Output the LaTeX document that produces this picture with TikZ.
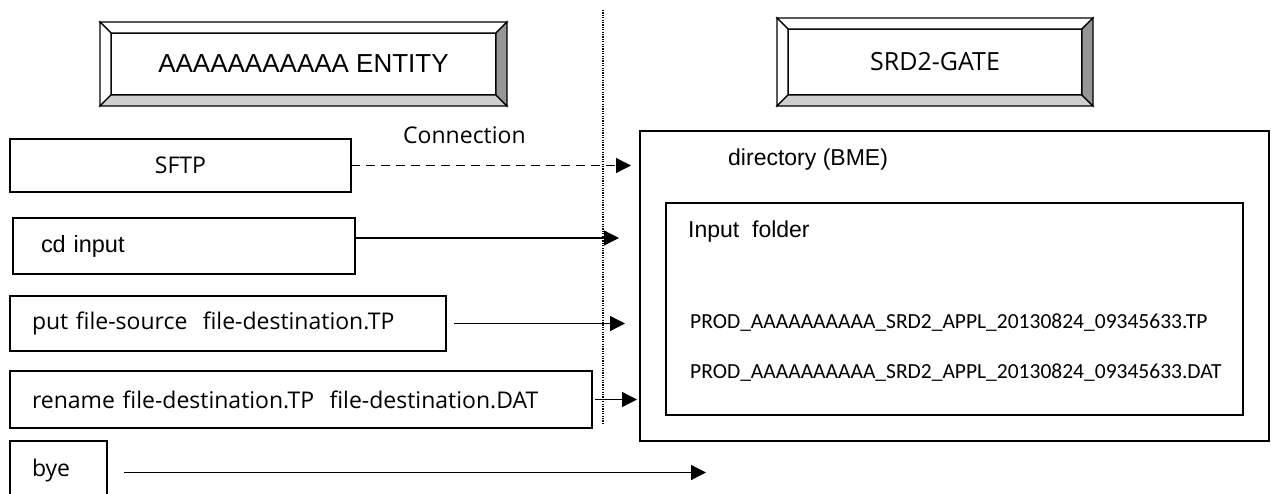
\documentclass[tikz,border=0pt]{standalone}
\usepackage{fontspec}
\setmainfont{Liberation Sans}
\newfontfamily\segoe{Open Sans}
\newfontfamily\calib{Carlito}
\usepackage{tikz}
\usetikzlibrary{arrows.meta, positioning}
\definecolor{bevellight}{RGB}{207,207,207}
\definecolor{beveldark}{RGB}{150,150,150}

\begin{document}
\begin{tikzpicture}[x=1pt,y=-1pt,
	header/.style={draw, line width=1.2pt, rectangle, outer sep=0pt, inner sep=0pt},
	cmdbox/.style={draw, line width=1.3pt, rectangle, outer sep=0pt, inner ysep=0pt, align=left, font=\segoe\fontsize{23}{27}\selectfont},
	dirbox/.style={draw, line width=1.3pt, rectangle, outer sep=0pt, inner sep=0pt},
	txt/.style={inner sep=0pt, anchor=west, font=\fontsize{23}{27}\selectfont},
	flow/.style={line width=1.3pt, -{Triangle[length=15pt,width=15pt]}}]
	\useasboundingbox (0,0) rectangle (1278,493);
	%\draw[step=50pt, color=gray!30] (0,0) grid (1278,493);

	% headers
	\node[header, minimum width=385pt, minimum height=62pt, font=\fontsize{26}{30}\selectfont] (entity) at (303.5,64) {AAAAAAAAAAA ENTITY};
	\node[header, minimum width=294pt, minimum height=66pt, font=\segoe\fontsize{25}{30}\selectfont] (gate) at (935,62) {SRD2-GATE};
	\foreach \b in {entity,gate}{
		\filldraw[line width=1.2pt, fill=white] ([shift={(-11pt,11pt)}]\b.north west) -- ([shift={(11pt,11pt)}]\b.north east) -- (\b.north east) -- (\b.north west) -- cycle;
		\filldraw[line width=1.2pt, fill=white] ([shift={(-11pt,11pt)}]\b.north west) -- (\b.north west) -- (\b.south west) -- ([shift={(-11pt,-11pt)}]\b.south west) -- cycle;
		\filldraw[line width=1.2pt, fill=bevellight] ([shift={(-11pt,-11pt)}]\b.south west) -- (\b.south west) -- (\b.south east) -- ([shift={(11pt,-11pt)}]\b.south east) -- cycle;
		\filldraw[line width=1.2pt, fill=beveldark] ([shift={(11pt,11pt)}]\b.north east) -- ([shift={(11pt,-11pt)}]\b.south east) -- (\b.south east) -- (\b.north east) -- cycle;
	}

	% separation
	\coordinate (sepTop) at (603,10);
	\coordinate (sepBot) at (603,425);
	\draw[line width=1.1pt, dash pattern=on 1.2pt off 1.2pt] (sepTop) -- (sepBot);
	\node[txt, font=\segoe\fontsize{23}{27}\selectfont] (conn) at (403,135) {Connection};

	% commands
	\node[cmdbox, minimum width=341pt, minimum height=53pt, anchor=north west, align=center] (sftp) at (10,139) {SFTP};
	\node[cmdbox, inner xsep=28pt, text width=286pt, minimum height=56pt, anchor=north west, font=\fontsize{23.5}{27}\selectfont] (cd) at (13,218) {cd input};
	\node[cmdbox, inner xsep=22pt, text width=392pt, minimum height=55pt, anchor=north west] (put) at (10,296) {put file-source\ \ file-destination.TP};
	\node[cmdbox, inner xsep=22pt, text width=538pt, minimum height=57pt, anchor=north west] (ren) at (10,371) {rename file-destination.TP\ \ file-destination.DAT};
	\node[cmdbox, inner xsep=22pt, text width=53pt, minimum height=59pt, anchor=north west] (bye) at (10,441) {bye};

	% SRD2 side
	\node[dirbox, minimum width=629pt, minimum height=310pt, anchor=north west] (dir) at (640,131) {};
	\node[txt] (dirlabel) at (728,160) {directory (BME)};
	\node[dirbox, minimum width=577pt, minimum height=212pt, anchor=north west] (infolder) at (666,203) {};
	\node[txt] (inlabel) at (688,232) {Input\ \ folder};
	\node[txt, font=\calib\fontsize{21.5}{25}\selectfont] (tpfile) at (690,323) {PROD\_AAAAAAAAAA\_SRD2\_APPL\_20130824\_09345633.TP};
	\node[txt, font=\calib\fontsize{21.5}{25}\selectfont] (datfile) at (690,373) {PROD\_AAAAAAAAAA\_SRD2\_APPL\_20130824\_09345633.DAT};

	% arrows
	\coordinate (sftpTip) at ([xshift=280pt]sftp.east);
	\coordinate (cdTip) at ([shift={(264pt,8pt)}]cd.east);
	\coordinate (putTip) at ([xshift=179pt]put.east);
	\coordinate (renTip) at ([xshift=45pt]ren.east);
	\coordinate (byeTip) at ([shift={(599pt,-2pt)}]bye.east);
	\draw[flow, dash pattern=on 9pt off 6pt] (sftp.east) -- (sftpTip);
	\draw[flow] ([yshift=8pt]cd.east) -- (cdTip);
	\draw[flow] ([xshift=8pt]put.east) -- (putTip);
	\draw[flow] ([xshift=3pt]ren.east) -- (renTip);
	\draw[flow] ([shift={(17pt,-2pt)}]bye.east) -- (byeTip);
\end{tikzpicture}
\end{document}
